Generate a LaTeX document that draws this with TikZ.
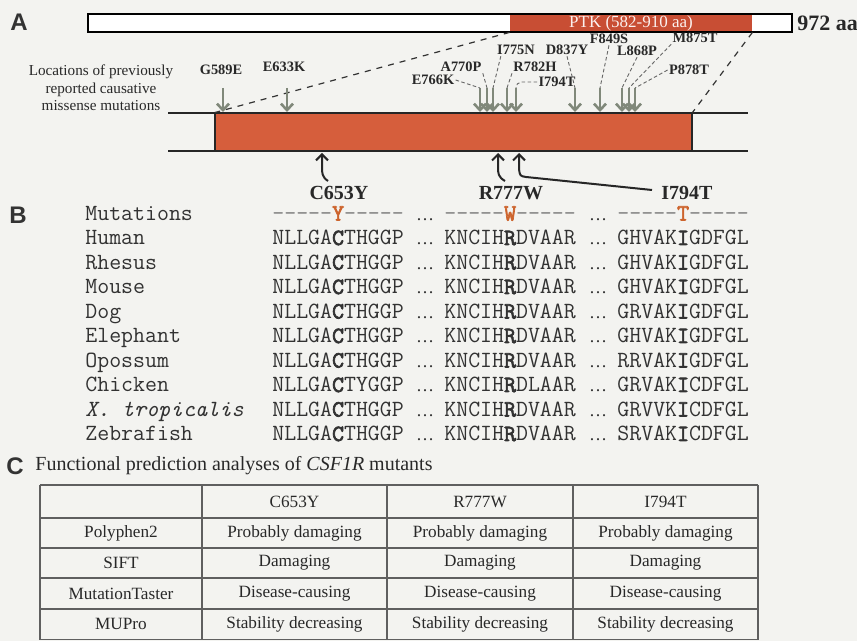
\documentclass[tikz,border=0pt]{standalone}
\usepackage{fontspec}
\setmainfont{Liberation Serif}
\setsansfont{Liberation Sans}
\setmonofont{Latin Modern Mono}[AutoFakeBold=3]
\usetikzlibrary{arrows.meta}
\definecolor{bg}{RGB}{243,243,240}
\definecolor{ptk}{RGB}{200,78,52}
\definecolor{dom}{RGB}{214,94,60}
\definecolor{garrow}{RGB}{128,136,122}
\definecolor{txt}{RGB}{40,40,40}
\definecolor{seqc}{RGB}{50,50,50}
\definecolor{mutc}{RGB}{205,100,45}
\definecolor{grid}{RGB}{95,95,95}
\newcommand{\bseq}[1]{\textbf{#1}}
\begin{document}
\begin{tikzpicture}[x=0.5pt,y=-0.5pt,
  lbl/.style={font=\sffamily\bfseries\fontsize{12}{12}\selectfont, text=black!80, inner sep=0},
  mlab/.style={font=\bfseries\fontsize{7.2}{8}\selectfont, text=txt, inner sep=0.5pt},
  garr/.style={draw=garrow, line width=1.3pt, -{Straight Barb[length=3.2pt,width=6pt]}},
  leader/.style={draw=black!60, line width=0.45pt, dash pattern=on 1.8pt off 1.2pt},
  blk/.style={draw=black!85, line width=1pt, -{Straight Barb[length=3pt,width=6pt]}},
  big/.style={font=\bfseries\fontsize{10}{12}\selectfont, text=txt, inner sep=0},
  sp/.style={font=\ttfamily\fontsize{11.6}{13}\selectfont, text=seqc, anchor=west, inner sep=0, text height=6pt, text depth=1.5pt},
  dots/.style={font=\fontsize{9}{10}\selectfont, text=seqc, inner sep=0, text height=6pt, text depth=1.5pt},
  cell/.style={font=\fontsize{8.6}{10}\selectfont, text=txt, inner sep=0},
]
\useasboundingbox (0,0) rectangle (857,641);
\fill[bg] (0,0) rectangle (857,641);

% ---------- A ----------
\node[lbl] (labA) at (19,22) {A};
\node[fill=white!97!bg, minimum width=352pt, minimum height=9pt, inner sep=0] (bar) at (440,23) {};
\node[fill=ptk, minimum width=121pt, minimum height=9pt, inner sep=0,
      font=\fontsize{8.5}{9}\selectfont, text=white!92!ptk] (ptk) at (631,23) {PTK (582-910 aa)};
\draw[line width=1pt] (bar.south west) rectangle (bar.north east);
\node[font=\bfseries\fontsize{11}{12}\selectfont, text=txt, anchor=west, inner sep=0] (len) at (797,23) {972 aa};

% domain zoom
\draw[line width=1pt, black!85] (168,113) -- (748,113);
\draw[line width=1pt, black!85] (168,151) -- (748,151);
\node[fill=dom, minimum width=238.5pt, minimum height=19pt, inner sep=0] (dom) at (453.5,132) {};
\draw[line width=1pt, black!85] (dom.north west) -- (dom.south west);
\draw[line width=1pt, black!85] (dom.north east) -- (dom.south east);
\draw[line width=1pt, black!85] (dom.north west) -- (dom.north east);
\draw[line width=1pt, black!85] (dom.south west) -- (dom.south east);

\draw[dashed, line width=0.6pt, black!80] (ptk.south west) -- (dom.north west);
\draw[dashed, line width=0.6pt, black!80] (ptk.south east) -- (dom.north east);

\node[align=center, font=\fontsize{7.6}{8.7}\selectfont, text=txt, inner sep=0] (desc) at (101,88)
  {Locations of previously\\reported causative\\missense mutations};

% gray arrows
\foreach \nm/\x in {G589E/223, E633K/287, E766K/480, A770P/487, I775N/493, R782H/507, I794T/516, D837Y/575, F849S/600, L868P/622, M875T/629, P878T/635} {
  \coordinate (t\nm) at (\x,88);
  \coordinate (h\nm) at (\x,112);
  \draw[garr] (t\nm) -- (h\nm);
}
% labels
\node[mlab] (lG589E) at (221,70) {G589E};
\node[mlab] (lE633K) at (284,67) {E633K};
\node[mlab] (lE766K) at (433,80) {E766K};
\node[mlab] (lA770P) at (461,67) {A770P};
\node[mlab] (lI775N) at (516,50) {I775N};
\node[mlab] (lR782H) at (535,67) {R782H};
\node[mlab] (lI794T) at (557,82) {I794T};
\node[mlab] (lD837Y) at (567,50) {D837Y};
\node[mlab] (lF849S) at (609,39) {F849S};
\node[mlab] (lL868P) at (637,51) {L868P};
\node[mlab] (lM875T) at (695,38) {M875T};
\node[mlab] (lP878T) at (689,70) {P878T};
% leaders
\coordinate (kI794) at (521,82);
\draw[leader] (lE766K.east) -- (tE766K);
\draw[leader] (lA770P.south east) -- (tA770P);
\draw[leader] ([xshift=2.5pt]lI775N.south west) -- (tI775N);
\draw[leader] (lR782H.south west) -- (tR782H);
\draw[leader] (lI794T.west) -- (kI794) to[out=180,in=90] (tI794T);
\draw[leader] (lD837Y.south) -- (tD837Y);
\draw[leader] (lF849S.south) -- (tF849S);
\draw[leader] (lL868P.south) -- (tL868P);
\draw[leader] (lM875T.south west) -- (tM875T);
\draw[leader] (lP878T.west) -- (tP878T);

% black arrows
\coordinate (c653tip) at (322,153);
\coordinate (c653t) at (328,181);
\coordinate (r777tip) at (498,153);
\coordinate (r777t) at (505,181);
\coordinate (i794tip) at (519,153);
\coordinate (i794t) at (652,190);
\draw[blk] (c653t) .. controls (322,177) and (322,173) .. (322,167) -- (c653tip);
\draw[blk] (r777t) .. controls (498,177) and (498,173) .. (498,167) -- (r777tip);
\draw[blk] (i794t) -- (526,177) .. controls (520,176) .. (519,169) -- (i794tip);
\node[big] (bC653Y) at (339,193) {C653Y};
\node[big] (bR777W) at (511,193) {R777W};
\node[big] (bI794T) at (687,193) {I794T};

% ---------- B ----------
\node[lbl] (labB) at (18,215) {B};
\node[sp] (mutname) at (85,216) {Mutations};
\node[sp] (mut1) at (272,216) {\textcolor{gray}{-----}\textcolor{mutc}{\textbf{Y}}\textcolor{gray}{-----}};
\node[dots] (mutd1) at (425,216) {…};
\node[sp] (mut2) at (444,216) {\textcolor{gray}{-----}\textcolor{mutc}{\textbf{W}}\textcolor{gray}{-----}};
\node[dots] (mutd2) at (598,216) {…};
\node[sp] (mut3) at (617,216) {\textcolor{gray}{-----}\textcolor{mutc}{\textbf{T}}\textcolor{gray}{-----}};

\foreach \nm/\sa/\sb/\sc [count=\i] in {
  Human/NLLGA\bseq{C}THGGP/KNCIH\bseq{R}DVAAR/GHVAK\bseq{I}GDFGL,
  Rhesus/NLLGA\bseq{C}THGGP/KNCIH\bseq{R}DVAAR/GHVAK\bseq{I}GDFGL,
  Mouse/NLLGA\bseq{C}THGGP/KNCIH\bseq{R}DVAAR/GHVAK\bseq{I}GDFGL,
  Dog/NLLGA\bseq{C}THGGP/KNCIH\bseq{R}DVAAR/GRVAK\bseq{I}GDFGL,
  Elephant/NLLGA\bseq{C}THGGP/KNCIH\bseq{R}DVAAR/GHVAK\bseq{I}GDFGL,
  Opossum/NLLGA\bseq{C}THGGP/KNCIH\bseq{R}DVAAR/RRVAK\bseq{I}GDFGL,
  Chicken/NLLGA\bseq{C}TYGGP/KNCIH\bseq{R}DLAAR/GRVAK\bseq{I}CDFGL,
  \textit{X. tropicalis}/NLLGA\bseq{C}THGGP/KNCIH\bseq{R}DVAAR/GRVVK\bseq{I}CDFGL,
  Zebrafish/NLLGA\bseq{C}THGGP/KNCIH\bseq{R}DVAAR/SRVAK\bseq{I}CDFGL} {
  \pgfmathsetmacro{\yy}{216+24.5*\i}
  \node[sp] (name\i) at (85,\yy) {\nm};
  \node[sp] (sa\i) at (272,\yy) {\sa};
  \node[dots] (da\i) at (425,\yy) {…};
  \node[sp] (sb\i) at (444,\yy) {\sb};
  \node[dots] (db\i) at (598,\yy) {…};
  \node[sp] (sc\i) at (617,\yy) {\sc};
}

% ---------- C ----------
\node[lbl] (labC) at (15,466) {C};
\node[anchor=west, inner sep=0, font=\fontsize{10}{12}\selectfont, text=txt] (ctitle) at (35,466)
  {Functional prediction analyses of \textit{CSF1R} mutants};

\foreach \x in {40,202,387,573,758} \draw[grid, line width=0.7pt] (\x,485) -- (\x,639.5);
\foreach \y in {485,518,548,578,609,639.5} \draw[grid, line width=0.7pt] (40,\y) -- (758,\y);

\node[cell] (h1) at (294.5,501.5) {C653Y};
\node[cell] (h2) at (480,501.5) {R777W};
\node[cell] (h3) at (665.5,501.5) {I794T};
\foreach \rn/\val/\yy [count=\j] in {Polyphen2/Probably damaging/533, SIFT/Damaging/563, MutationTaster/Disease-causing/593.5, MUPro/Stability decreasing/624} {
  \node[cell] (r\j) at (121,\yy) {\rn};
  \node[cell] (r\j a) at (294.5,\yy) {\val};
  \node[cell] (r\j b) at (480,\yy) {\val};
  \node[cell] (r\j c) at (665.5,\yy) {\val};
}
\end{tikzpicture}
\end{document}
